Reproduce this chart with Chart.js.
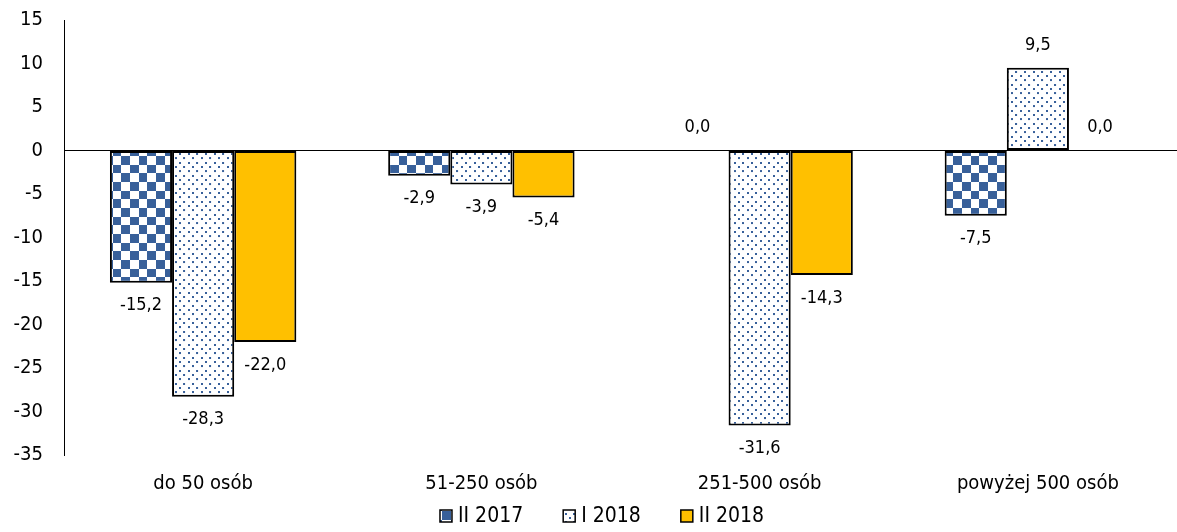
<!DOCTYPE html>
<html>
<head>
<meta charset="utf-8">
<script src="https://cdn.jsdelivr.net/npm/chart.js@4"></script>
<style>
  html, body { margin: 0; padding: 0; background: #fff; }
  #wrap { width: 1177px; height: 532px; }
</style>
</head>
<body>
<div id="wrap"><canvas id="chart"></canvas></div>
<script>
const categories = ['do 50 osób', '51-250 osób', '251-500 osób', 'powyżej 500 osób'];
const seriesNames = ['II 2017', 'I 2018', 'II 2018'];
const valuesII2017 = [-15.2, -2.9, 0.0, -7.5];
const valuesI2018 = [-28.3, -3.9, -31.6, 9.5];
const valuesII2018 = [-22.0, -5.4, -14.3, 0.0];
const yTicks = [15, 10, 5, 0, -5, -10, -15, -20, -25, -30, -35];

const blue = '#38609a';
const yellow = '#ffc000';
const fontFamily = '"DejaVu Sans Condensed", "DejaVu Sans", sans-serif';

// tiles drawn at 3x and scaled down so the cell is ~8.7px
function makeChecker() {
    const c = document.createElement('canvas');
    c.width = 52; c.height = 52;
    const g = c.getContext('2d');
    g.fillStyle = '#fff';
    g.fillRect(0, 0, 52, 52);
    g.fillStyle = blue;
    g.fillRect(0, 0, 26, 26);
    g.fillRect(26, 26, 26, 26);
    const p = g.createPattern(c, 'repeat');
    p.setTransform(new DOMMatrix().scale(1 / 3));
    return p;
}

function makeDots() {
    const c = document.createElement('canvas');
    c.width = 26; c.height = 26;
    const g = c.getContext('2d');
    g.fillStyle = '#fff';
    g.fillRect(0, 0, 26, 26);
    g.fillStyle = blue;
    g.fillRect(4, 4, 6, 6);
    g.fillRect(17, 17, 6, 6);
    const p = g.createPattern(c, 'repeat');
    p.setTransform(new DOMMatrix().scale(1 / 3));
    return p;
}

const valueLabels = {
    id: 'valueLabels',
    afterDatasetsDraw(chart) {
        const ctx = chart.ctx;
        ctx.save();
        ctx.font = '18px ' + fontFamily;
        ctx.fillStyle = '#000';
        ctx.textAlign = 'center';
        ctx.textBaseline = 'middle';
        chart.data.datasets.forEach((ds, i) => {
            const meta = chart.getDatasetMeta(i);
            meta.data.forEach((bar, j) => {
                const v = ds.data[j];
                const txt = v.toFixed(1).replace('.', ',');
                const y = v >= 0 ? bar.y - 23 : bar.y + 23;
                ctx.fillText(txt, bar.x, y);
            });
        });
        ctx.restore();
    }
};

// legend drawn by hand so the row sits tight under the category labels
const bottomLegend = {
    id: 'bottomLegend',
    afterDraw(chart) {
        const ctx = chart.ctx;
        const box = 12, gap = 6, spacing = 40, y = 516;
        ctx.save();
        ctx.font = '21px ' + fontFamily;
        ctx.textBaseline = 'middle';
        const items = chart.data.datasets.map(ds => ({ ds, w: ctx.measureText(ds.label).width }));
        const total = items.reduce((s, it) => s + box + gap + it.w, 0) + spacing * (items.length - 1);
        let x = 602 - total / 2;
        items.forEach(it => {
            ctx.fillStyle = it.ds.backgroundColor;
            ctx.fillRect(x, y - box / 2, box, box);
            ctx.strokeStyle = '#000';
            ctx.lineWidth = 1.5;
            ctx.strokeRect(x, y - box / 2, box, box);
            ctx.fillStyle = '#000';
            ctx.fillText(it.ds.label, x + box + gap, y + 1);
            x += box + gap + it.w + spacing;
        });
        ctx.restore();
    }
};

const ctx = document.getElementById('chart').getContext('2d');
new Chart(ctx, {
    type: 'bar',
    data: {
        labels: categories,
        datasets: [
            { label: seriesNames[0], data: valuesII2017, backgroundColor: makeChecker() },
            { label: seriesNames[1], data: valuesI2018, backgroundColor: makeDots() },
            { label: seriesNames[2], data: valuesII2018, backgroundColor: yellow }
        ].map(d => Object.assign(d, {
            borderColor: '#000',
            borderWidth: 2,
            borderSkipped: false,
            barPercentage: 1,
            categoryPercentage: 0.67
        }))
    },
    options: {
        responsive: true,
        maintainAspectRatio: false,
        animation: false,
        layout: { padding: { top: 20, right: 0, bottom: 37, left: 0 } },
        scales: {
            x: {
                afterFit(scale) { scale.height = 40; scale.paddingLeft = 0; scale.paddingRight = 0; },
                grid: { display: false, drawTicks: false },
                border: { display: false },
                ticks: { color: '#000', padding: 17, font: { family: fontFamily, size: 20 } }
            },
            y: {
                min: -35,
                max: 15,
                afterFit(scale) { scale.width = 64; scale.paddingTop = 0; scale.paddingBottom = 0; },
                afterBuildTicks(scale) { scale.ticks = yTicks.map(v => ({ value: v })); },
                border: { display: true, color: '#000', width: 1 },
                grid: {
                    drawTicks: false,
                    color: c => (c.tick && c.tick.value === 0 ? '#000' : 'rgba(0,0,0,0)'),
                    lineWidth: 1
                },
                ticks: { color: '#000', padding: 21, font: { family: fontFamily, size: 20 } }
            }
        },
        plugins: {
            legend: { display: false },
            tooltip: { enabled: false }
        }
    },
    plugins: [valueLabels, bottomLegend]
});
</script>
</body>
</html>
